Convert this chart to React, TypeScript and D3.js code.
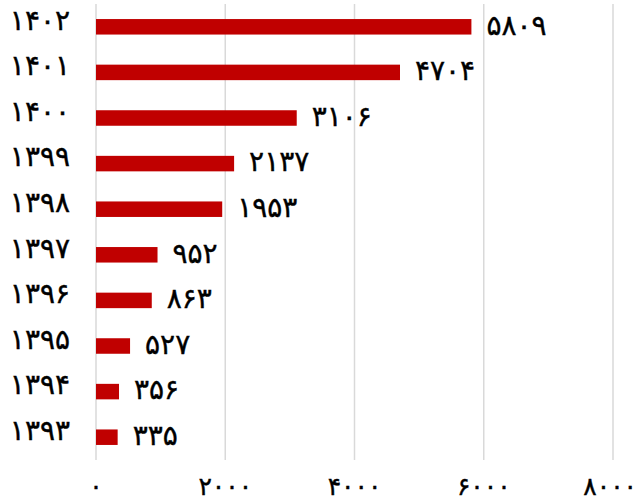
import React from 'react';
import * as d3 from 'd3';

// years (top to bottom) and their values
const years = ['1402', '1401', '1400', '1399', '1398', '1397', '1396', '1395', '1394', '1393'];
const values = [5809, 4704, 3106, 2137, 1953, 952, 863, 527, 356, 335];
const ticks = [0, 2000, 4000, 6000, 8000];

const width = 639;
const height = 503;

// latin digits -> persian digits
const fa = (s: string | number) =>
  String(s).replace(/[0-9]/g, (d) => '۰۱۲۳۴۵۶۷۸۹'[+d]);

const font = '"DejaVu Sans", sans-serif';

export default function App() {
  const x = d3.scaleLinear().domain([0, 8000]).range([96, 613]);
  const y = d3.scaleBand<string>().domain(years).range([4, 460]).paddingInner(0.66).paddingOuter(0.33);

  return (
    <svg width={width} height={height} style={{ position: 'absolute', left: 0, top: 0, background: '#fff' }}>
      {/* grid */}
      {ticks.map((t) => (
        <line key={t} x1={x(t)} x2={x(t)} y1={4} y2={460} stroke="#d9d9d9" strokeWidth={1.5} />
      ))}
      {/* bars */}
      {years.map((yr, i) => (
        <g key={yr}>
          <rect x={x(0)} y={y(yr)} width={x(values[i]) - x(0)} height={y.bandwidth()} fill="#c00000" />
          <text x={x(values[i]) + 15} y={(y(yr) as number) + y.bandwidth() / 2 - 2} dy="0.35em"
            fontFamily={font} fontSize={28} fill="#000" stroke="#000" strokeWidth={0.4}>
            {fa(values[i])}
          </text>
          <text x={70} y={(y(yr) as number) + y.bandwidth() / 2 - 7} dy="0.35em" textAnchor="end"
            fontFamily={font} fontSize={28} fill="#000" stroke="#000" strokeWidth={0.4}>
            {fa(yr)}
          </text>
        </g>
      ))}
      {/* x axis labels, last one kept inside the frame */}
      {ticks.map((t, i) => {
        const last = i === ticks.length - 1;
        return (
          <text key={t} x={last ? width - 2 : x(t)} y={486} dy="0.35em" textAnchor={last ? 'end' : 'middle'}
            fontFamily={font} fontSize={25} fill="#000" stroke="#000" strokeWidth={0.4}>
            {fa(t)}
          </text>
        );
      })}
    </svg>
  );
}
